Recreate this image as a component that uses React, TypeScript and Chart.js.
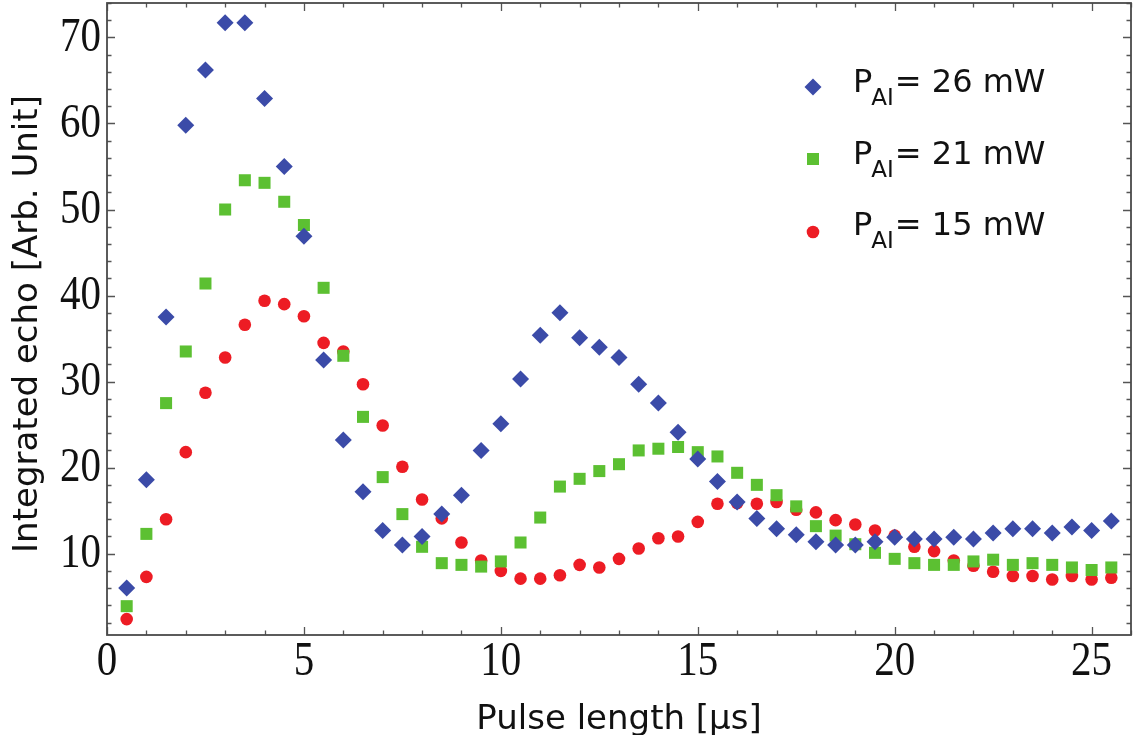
import React, { useEffect, useRef } from 'react';
import { Chart, registerables } from 'chart.js';

Chart.register(...registerables);

const pulseLengths = [
  0.5, 1.0, 1.5, 2.0, 2.5, 3.0, 3.5, 4.0, 4.5, 5.0,
  5.5, 6.0, 6.5, 7.0, 7.5, 8.0, 8.5, 9.0, 9.5, 10.0,
  10.5, 11.0, 11.5, 12.0, 12.5, 13.0, 13.5, 14.0, 14.5, 15.0,
  15.5, 16.0, 16.5, 17.0, 17.5, 18.0, 18.5, 19.0, 19.5, 20.0,
  20.5, 21.0, 21.5, 22.0, 22.5, 23.0, 23.5, 24.0, 24.5, 25.0, 25.5,
];

const echo26mW = [
  6.0, 18.6, 37.5, 59.8, 66.2, 71.7, 71.7, 62.9, 55.0, 46.9,
  32.5, 23.2, 17.2, 12.7, 11.0, 12.0, 14.6, 16.8, 22.0, 25.1,
  30.3, 35.4, 38.0, 35.1, 34.0, 32.8, 29.7, 27.5, 24.1, 21.0,
  18.4, 16.0, 14.1, 12.9, 12.2, 11.4, 11.0, 11.0, 11.4, 11.9,
  11.7, 11.7, 11.9, 11.7, 12.4, 12.9, 12.9, 12.4, 13.1, 12.7, 13.8,
];

const echo21mW = [
  3.9, 12.3, 27.5, 33.5, 41.4, 50.0, 53.4, 53.1, 50.9, 48.2,
  40.9, 33.0, 25.9, 18.9, 14.6, 10.8, 8.9, 8.7, 8.5, 9.1,
  11.3, 14.2, 17.8, 18.7, 19.6, 20.4, 22.0, 22.2, 22.4, 21.8,
  21.3, 19.4, 18.0, 16.8, 15.5, 13.2, 12.1, 11.1, 10.1, 9.4,
  8.9, 8.7, 8.7, 9.1, 9.3, 8.7, 8.9, 8.7, 8.4, 8.1, 8.4,
];

const echo15mW = [
  2.4, 7.3, 14.0, 21.8, 28.7, 32.8, 36.6, 39.4, 39.0, 37.6,
  34.5, 33.5, 29.7, 24.9, 20.1, 16.3, 14.1, 11.3, 9.2, 8.0,
  7.1, 7.1, 7.5, 8.7, 8.4, 9.4, 10.6, 11.8, 12.0, 13.7,
  15.8, 15.9, 15.8, 16.0, 15.1, 14.8, 13.9, 13.4, 12.7, 12.1,
  10.8, 10.3, 9.2, 8.6, 7.9, 7.4, 7.4, 7.0, 7.4, 7.0, 7.2,
];

const seriesPowers = ['26 mW', '21 mW', '15 mW'];
const seriesColors = ['#3B4BA8', '#5CC032', '#ED1C24'];
const seriesShapes = ['rectRot', 'rect', 'circle'];

const xMajorTicks = [0, 5, 10, 15, 20, 25];
const yMajorTicks = [10, 20, 30, 40, 50, 60, 70];
const xMinorStep = 1;
const yMinorStep = 2;

const xTitle = 'Pulse length [μs]';
const yTitle = 'Integrated echo [Arb. Unit]';

const SANS = '"DejaVu Sans", Verdana, sans-serif';
const SERIF = '"Liberation Serif", "Times New Roman", serif';

function drawMarker(ctx: CanvasRenderingContext2D, shape: string, x: number, y: number, r: number, color: string) {
  ctx.fillStyle = color;
  ctx.beginPath();
  if (shape === 'rectRot') {
    ctx.moveTo(x - r, y);
    ctx.lineTo(x, y - r);
    ctx.lineTo(x + r, y);
    ctx.lineTo(x, y + r);
    ctx.closePath();
  } else if (shape === 'rect') {
    const s = Math.SQRT1_2 * r;
    ctx.rect(x - s, y - s, 2 * s, 2 * s);
  } else {
    ctx.arc(x, y, r, 0, Math.PI * 2);
  }
  ctx.fill();
}

const framePlugin = {
  id: 'framePlugin',
  afterDraw(chart: any) {
    const ctx: CanvasRenderingContext2D = chart.ctx;
    const { left, right, top, bottom } = chart.chartArea;
    const xs = chart.scales.x;
    const ys = chart.scales.y;
    ctx.save();

    // ticks
    ctx.strokeStyle = '#555';
    ctx.lineWidth = 1.3;
    const majorLen = 8;
    const minorLen = 4.5;
    for (let v = 0; v <= xs.max + 1e-9; v += xMinorStep) {
      const px = Math.round(xs.getPixelForValue(v)) + 0.5;
      const len = xMajorTicks.includes(v) ? majorLen : minorLen;
      ctx.beginPath();
      ctx.moveTo(px, bottom);
      ctx.lineTo(px, bottom - len);
      ctx.moveTo(px, top);
      ctx.lineTo(px, top + len);
      ctx.stroke();
    }
    for (let v = yMinorStep; v <= ys.max + 1e-9; v += yMinorStep) {
      if (v < ys.min) continue;
      const py = Math.round(ys.getPixelForValue(v)) + 0.5;
      const len = yMajorTicks.includes(v) ? majorLen : minorLen;
      ctx.beginPath();
      ctx.moveTo(left, py);
      ctx.lineTo(left + len, py);
      ctx.moveTo(right, py);
      ctx.lineTo(right - len, py);
      ctx.stroke();
    }

    // frame
    ctx.strokeStyle = '#4a4a4a';
    ctx.lineWidth = 1.8;
    ctx.strokeRect(left, top, right - left, bottom - top);

    // tick labels (serif, slightly tall)
    const sy = 1.18;
    ctx.fillStyle = '#111';
    ctx.font = `41px ${SERIF}`;
    ctx.textAlign = 'center';
    ctx.textBaseline = 'alphabetic';
    for (const v of xMajorTicks) {
      const px = xs.getPixelForValue(v);
      ctx.save();
      ctx.scale(1, sy);
      ctx.fillText(String(v), px, 675 / sy);
      ctx.restore();
    }
    ctx.textAlign = 'right';
    for (const v of yMajorTicks) {
      const py = ys.getPixelForValue(v);
      ctx.save();
      ctx.scale(1, sy);
      ctx.fillText(String(v), 101, (py + 13.5) / sy);
      ctx.restore();
    }

    // axis titles
    ctx.fillStyle = '#111';
    ctx.font = `34px ${SANS}`;
    ctx.textAlign = 'center';
    ctx.fillText(xTitle, (left + right) / 2 + 0, 729);
    ctx.save();
    ctx.translate(37, 324);
    ctx.rotate(-Math.PI / 2);
    ctx.fillText(yTitle, 0, 0);
    ctx.restore();

    // legend
    const markerX = 813;
    const textX = 853;
    const baselines = [92, 163.5, 235];
    const markerYs = [87, 159, 232];
    const radii = [8.5, 8.5, 6.3];
    for (let i = 0; i < seriesPowers.length; i++) {
      drawMarker(ctx, seriesShapes[i], markerX, markerYs[i], radii[i], seriesColors[i]);
      ctx.fillStyle = '#111';
      ctx.textAlign = 'left';
      ctx.font = `32px ${SANS}`;
      let x = textX;
      ctx.fillText('P', x, baselines[i]);
      x += ctx.measureText('P').width - 1;
      ctx.font = `23px ${SANS}`;
      ctx.fillText('AI', x, baselines[i] + 13);
      x += ctx.measureText('AI').width + 1;
      ctx.font = `32px ${SANS}`;
      ctx.fillText('= ' + seriesPowers[i], x, baselines[i]);
    }
    ctx.restore();
  },
};

export default function App() {
  const canvasRef = useRef<HTMLCanvasElement | null>(null);

  useEffect(() => {
    const canvas = canvasRef.current;
    if (!canvas) return;
    const seriesValues = [echo26mW, echo21mW, echo15mW];
    const radii = [8.5, 8.5, 6.3];
    const chart = new Chart(canvas, {
      type: 'scatter',
      data: {
        datasets: seriesValues.map((vals, i) => ({
          label: 'P_AI= ' + seriesPowers[i],
          data: pulseLengths.map((x, j) => ({ x, y: vals[j] })),
          pointStyle: seriesShapes[i] as any,
          pointRadius: radii[i],
          pointBackgroundColor: seriesColors[i],
          pointBorderWidth: 0,
          pointBorderColor: seriesColors[i],
          showLine: false,
          clip: false as any,
        })),
      },
      options: {
        responsive: false,
        maintainAspectRatio: false,
        animation: false,
        devicePixelRatio: 1,
        layout: { autoPadding: false, padding: { left: 107, right: 9, top: 3, bottom: 100 } },
        scales: {
          x: { type: 'linear', min: 0, max: 26, display: false },
          y: { type: 'linear', min: 0.55, max: 74, display: false },
        },
        plugins: {
          legend: { display: false },
          tooltip: { enabled: false },
        },
      },
      plugins: [framePlugin],
    });
    return () => chart.destroy();
  }, []);

  return (
    <div style={{ position: 'fixed', left: 0, top: 0, width: 1140, height: 735, background: '#fff' }}>
      <canvas ref={canvasRef} width={1140} height={735} style={{ width: 1140, height: 735, display: 'block' }} />
    </div>
  );
}
